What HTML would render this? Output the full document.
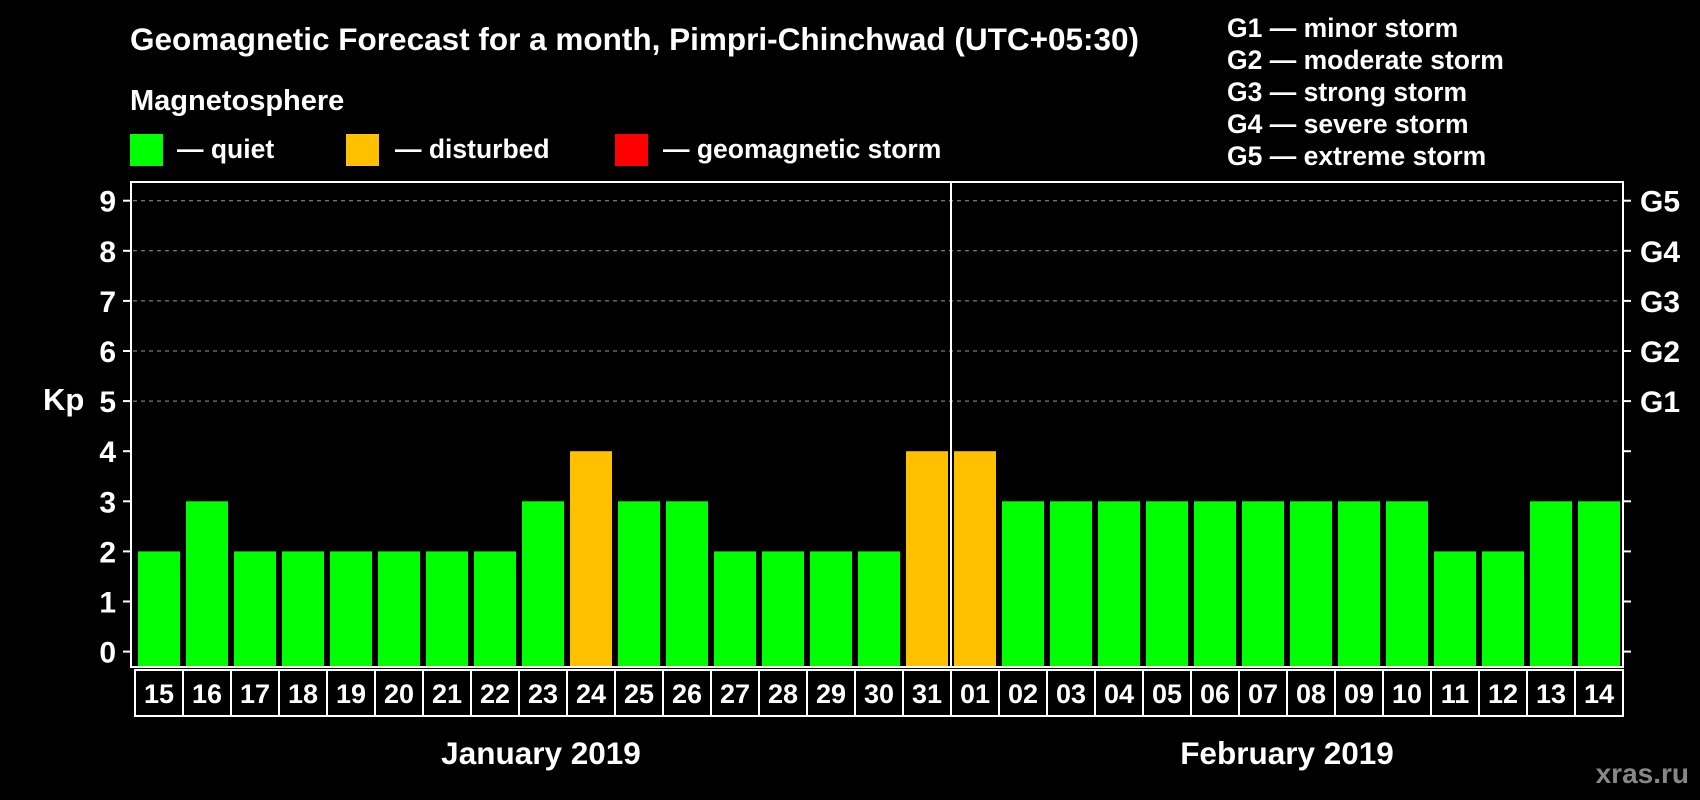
<!DOCTYPE html>
<html><head><meta charset="utf-8"><style>
body{margin:0;background:#000;width:1700px;height:800px;overflow:hidden}
svg{display:block;font-family:"Liberation Sans",Arial,sans-serif;font-weight:bold}
</style></head><body>
<svg id="chart" width="1700" height="800" viewBox="0 0 1700 800">
<rect width="1700" height="800" fill="#000"/>
<text x="130" y="50" fill="#fff" font-size="31.5">Geomagnetic Forecast for a month, Pimpri-Chinchwad (UTC+05:30)</text>
<text x="130" y="110" fill="#fff" font-size="29">Magnetosphere</text>
<g><rect x="130" y="134" width="33" height="32" fill="#00ff00"/><text x="177" y="158" fill="#fff" font-size="26.5">— quiet</text></g>
<g><rect x="346" y="134" width="33" height="32" fill="#ffc000"/><text x="395" y="158" fill="#fff" font-size="26.5">— disturbed</text></g>
<g><rect x="615" y="134" width="33" height="32" fill="#ff0000"/><text x="663" y="158" fill="#fff" font-size="26.5">— geomagnetic storm</text></g>
<g fill="#fff" font-size="26.5">
<text x="1227" y="37">G1 — minor storm</text>
<text x="1227" y="69">G2 — moderate storm</text>
<text x="1227" y="101">G3 — strong storm</text>
<text x="1227" y="133">G4 — severe storm</text>
<text x="1227" y="165">G5 — extreme storm</text>
</g>
<text x="43" y="410" fill="#fff" font-size="31">Kp</text>
<text x="541" y="764" fill="#fff" font-size="31.5" text-anchor="middle">January 2019</text>
<text x="1287" y="764" fill="#fff" font-size="31.5" text-anchor="middle">February 2019</text>
<text x="1689" y="783" fill="#888" font-size="28" text-anchor="end">xras.ru</text>
<g id="grid"></g><g id="bars"></g><g id="cells"></g>
<rect x="131" y="182" width="1492" height="485" fill="none" stroke="#fff" stroke-width="2"/>
<line x1="951" y1="182" x2="951" y2="667" stroke="#fff" stroke-width="2"/>
</svg>
<script>
const days=["15","16","17","18","19","20","21","22","23","24","25","26","27","28","29","30","31","01","02","03","04","05","06","07","08","09","10","11","12","13","14"];
const kp=[2,3,2,2,2,2,2,2,3,4,3,3,2,2,2,2,4,4,3,3,3,3,3,3,3,3,3,2,2,3,3];
const yTicks=[0,1,2,3,4,5,6,7,8,9];
const gLabels=["G1","G2","G3","G4","G5"];
const NS="http://www.w3.org/2000/svg";
const y=v=>651.6-v*50.1;
const x=i=>135+i*48;
function mk(t,a,p){const e=document.createElementNS(NS,t);for(const k in a)e.setAttribute(k,a[k]);p.appendChild(e);return e;}
const grid=document.getElementById('grid'),bars=document.getElementById('bars'),cells=document.getElementById('cells');
yTicks.forEach(v=>{
 const l=mk('line',{x1:123,x2:131,y1:y(v),y2:y(v),stroke:'#fff','stroke-width':2},grid);
 
 
 const r=mk('line',{x1:1623,x2:1631,y1:y(v),y2:y(v),stroke:'#fff','stroke-width':2},grid);
 
 
 const t=mk('text',{x:116,y:y(v)+11,fill:'#fff','font-size':30,'text-anchor':'end'},grid);
 t.textContent=v;
 
 
 if(v>=5){
  const g=mk('line',{x1:133,x2:1621,y1:y(v),y2:y(v),stroke:'#999','stroke-width':1,'stroke-dasharray':'4,4'},grid);
  
  
  const gt=mk('text',{x:1640,y:y(v)+11,fill:'#fff','font-size':30},grid);
  gt.textContent=gLabels[v-5];
  
  
 }
});
kp.forEach((v,i)=>{
 const c=v>=5?'#ff0000':(v>=4?'#ffc000':'#00ff00');
 const b=mk('rect',{x:x(i)+3,y:y(v),width:42,height:667-y(v),fill:c},bars);
 
 
 const r=mk('rect',{x:x(i),y:670,width:48,height:46,fill:'none',stroke:'#fff','stroke-width':2},cells);
 
 
 const t=mk('text',{x:x(i)+24,y:703,fill:'#fff','font-size':27,'text-anchor':'middle'},cells);
 t.textContent=days[i];
 
 
});
</script>
</body></html>
